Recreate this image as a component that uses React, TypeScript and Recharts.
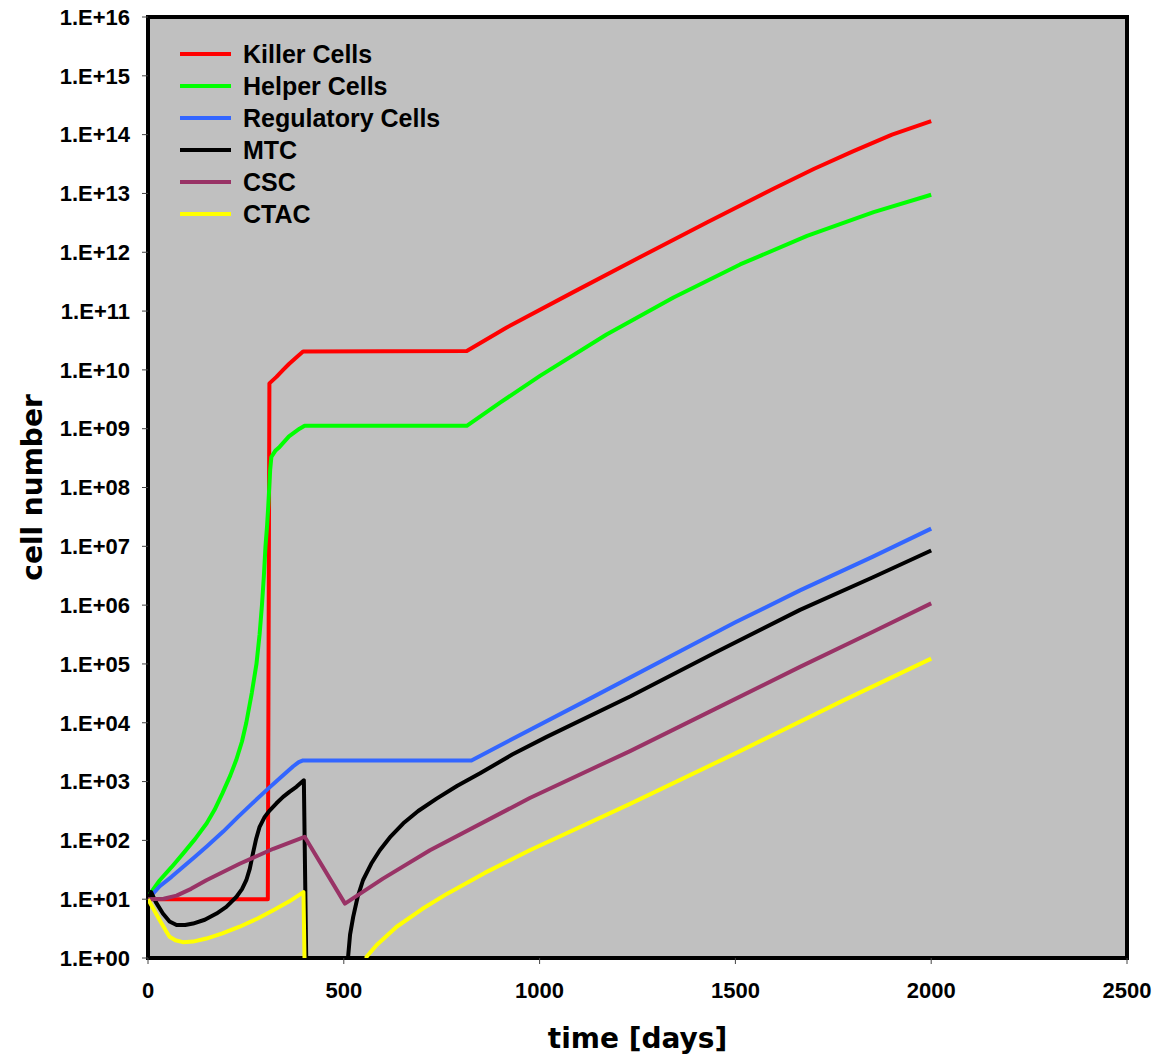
import React from 'react';
import {
  LineChart,
  Line,
  XAxis,
  YAxis,
  CartesianGrid,
  ReferenceArea,
  Legend,
} from 'recharts';

// time axis [days] and y ticks (log scale, cell number)
const xTicks = [0, 500, 1000, 1500, 2000, 2500];
const yTicks = [1e0, 1e1, 1e2, 1e3, 1e4, 1e5, 1e6, 1e7, 1e8, 1e9, 1e10, 1e11, 1e12, 1e13, 1e14, 1e15, 1e16];

// Killer Cells
const killerT = [0, 306, 310, 328, 345, 360, 380, 396, 814, 916, 1086, 1257, 1427, 1597, 1700, 1800, 1900, 2000];
const killerV = [10, 10, 5.9e9, 7.6e9, 1e10, 1.26e10, 1.66e10, 2.05e10, 2.1e10, 5.25e10, 2.1e11, 8.3e11, 3.2e12, 1.2e13, 2.6e13, 5.2e13, 1e14, 1.7e14];

// Helper Cells
const helperT = [0, 30, 60, 90, 120, 150, 170, 190, 210, 225, 240, 251, 265, 277, 285, 291, 296, 300, 304, 307, 312, 315, 325, 336, 360, 387, 400, 814, 900, 1001, 1171, 1342, 1512, 1683, 1853, 2000];
const helperV = [11, 21, 35, 60, 105, 195, 331, 630, 1260, 2300, 4800, 1e4, 3.2e4, 1e5, 3.2e5, 1e6, 3.2e6, 1e7, 2.2e7, 4.7e7, 2e8, 3.3e8, 4.2e8, 4.9e8, 7.4e8, 1e9, 1.12e9, 1.12e9, 2.8e9, 7.9e9, 4.0e10, 1.7e11, 6.2e11, 1.9e12, 4.8e12, 9.5e12];

// Regulatory Cells
const regT = [0, 30, 60, 90, 120, 150, 192, 230, 265, 302, 340, 371, 385, 396, 826, 1120, 1400, 1500, 1665, 1850, 2000];
const regV = [10, 16.6, 24, 35.5, 52.5, 79, 141, 251, 417, 708, 1200, 1820, 2140, 2290, 2290, 2.4e4, 2.3e5, 5.1e5, 1.78e6, 6.6e6, 2e7];

// MTC
const mtcT = [0, 8, 20, 38, 55, 73, 95, 115, 145, 175, 200, 226, 240, 251, 260, 268, 276, 285, 298, 311, 328, 345, 362, 379, 398, 404, 406, 505, 511, 516, 524, 535, 549, 570, 592, 620, 652, 690, 737, 790, 848, 930, 1018, 1231, 1450, 1665, 1850, 2000];
const mtcV = [10, 13.2, 8.9, 5.7, 4.17, 3.63, 3.63, 3.85, 4.47, 5.7, 7.4, 11, 14.8, 21, 33, 60, 105, 170, 251, 324, 427, 550, 676, 813, 1050, 1, 0.1, 0.1, 1.05, 2.5, 5, 10.7, 21, 40, 68, 117, 195, 316, 513, 851, 1380, 2880, 5750, 2.8e4, 1.58e5, 8.3e5, 2.95e6, 8.5e6];

// CSC
const cscT = [0, 40, 73, 110, 149, 234, 320, 400, 503, 600, 720, 975, 1231, 1450, 1665, 1850, 2000];
const cscV = [10, 10.2, 11.5, 15, 21, 40, 72, 115, 8.4, 22.4, 68, 525, 3300, 1.74e4, 8.9e4, 3.5e5, 1.07e6];

// CTAC
const ctacT = [0, 15, 30, 45, 55, 70, 89, 115, 149, 190, 234, 280, 320, 360, 397, 402, 555, 558, 584, 635, 700, 763, 860, 975, 1231, 1500, 1776, 2000];
const ctacV = [10, 6.6, 4.4, 2.95, 2.3, 2.0, 1.86, 1.9, 2.14, 2.63, 3.4, 4.7, 6.5, 9.1, 13.2, 0.1, 0.1, 1.05, 1.66, 3.4, 6.8, 12.3, 28, 68, 417, 3020, 2.4e4, 1.23e5];

const zip = (ts: number[], vs: number[]) => ts.map((t, i) => ({ t, v: vs[i] }));

const series = [
  { name: 'Killer Cells', color: '#FF0000', data: zip(killerT, killerV) },
  { name: 'Helper Cells', color: '#00FF00', data: zip(helperT, helperV) },
  { name: 'Regulatory Cells', color: '#3366FF', data: zip(regT, regV) },
  { name: 'MTC', color: '#000000', data: zip(mtcT, mtcV) },
  { name: 'CSC', color: '#993366', data: zip(cscT, cscV) },
  { name: 'CTAC', color: '#FFFF00', data: zip(ctacT, ctacV) },
];

const fmtExp = (v: number) => {
  const e = Math.round(Math.log10(v));
  return '1.E+' + String(e).padStart(2, '0');
};

const tickFont = { fontFamily: 'Liberation Sans, Arial, sans-serif', fontWeight: 'bold', fontSize: 22, fill: '#000' };
const titleFont = { fontFamily: 'DejaVu Sans, Verdana, sans-serif', fontWeight: 'bold', fontSize: 28, fill: '#000' };

function LegendBox() {
  return (
    <div style={{ fontFamily: 'Liberation Sans, Arial, sans-serif', fontWeight: 'bold', fontSize: 25, color: '#000' }}>
      {series.map((s) => (
        <div key={s.name} style={{ display: 'flex', alignItems: 'center', height: 32 }}>
          <div style={{ width: 51, height: 4, background: s.color, marginRight: 12 }} />
          <span>{s.name}</span>
        </div>
      ))}
    </div>
  );
}

export default function App() {
  return (
    <div style={{ position: 'absolute', left: 0, top: 0, background: '#fff' }}>
      <LineChart width={1153} height={1061} margin={{ top: 17, right: 26, bottom: 0, left: 8 }}>
        <CartesianGrid horizontal={false} vertical={false} fill="#C0C0C0" />
        <XAxis
          type="number"
          dataKey="t"
          domain={[0, 2500]}
          ticks={xTicks}
          allowDataOverflow
          height={103}
          axisLine={false}
          tickLine={{ stroke: '#444' }}
          tickSize={6}
          tickMargin={18}
          tick={tickFont}
          label={{
            content: ({ viewBox }: any) => (
              <text x={viewBox.x + viewBox.width / 2} y={viewBox.y + 90} textAnchor="middle" {...titleFont}>
                time [days]
              </text>
            ),
          }}
        />
        <YAxis
          type="number"
          dataKey="v"
          scale="log"
          domain={[1, 1e16]}
          ticks={yTicks}
          allowDataOverflow
          width={140}
          axisLine={false}
          tickLine={{ stroke: '#444' }}
          tickSize={6}
          tickMargin={12}
          tickFormatter={fmtExp}
          tick={tickFont}
          label={{
            content: ({ viewBox }: any) => {
              const cx = viewBox.x + 24;
              const cy = viewBox.y + viewBox.height / 2;
              return (
                <text x={cx} y={cy} transform={`rotate(-90 ${cx} ${cy})`} textAnchor="middle" dominantBaseline="central" {...titleFont}>
                  cell number
                </text>
              );
            },
          }}
        />
        <Legend
          layout="vertical"
          align="center"
          verticalAlign="middle"
          wrapperStyle={{ top: 38, left: 180, width: 'auto' }}
          content={() => <LegendBox />}
        />
        {series.map((s) => (
          <Line
            key={s.name}
            data={s.data}
            dataKey="v"
            name={s.name}
            type="linear"
            stroke={s.color}
            strokeWidth={4}
            strokeLinejoin="round"
            dot={false}
            activeDot={false}
            isAnimationActive={false}
          />
        ))}
        <ReferenceArea x1={0} x2={2500} y1={1} y2={1e16} fill="none" fillOpacity={0} stroke="#000" strokeWidth={4} ifOverflow="visible" />
      </LineChart>
    </div>
  );
}
